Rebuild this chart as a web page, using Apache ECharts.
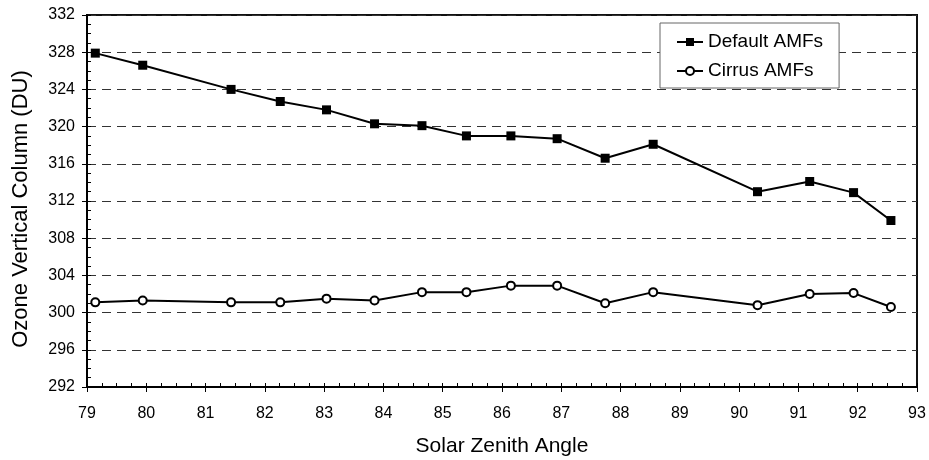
<!DOCTYPE html>
<html>
<head>
<meta charset="utf-8">
<script src="https://cdn.jsdelivr.net/npm/echarts@6/dist/echarts.min.js"></script>
<style>html,body{margin:0;padding:0;background:#fff;}#c{width:929px;height:460px;}</style>
</head>
<body>
<div id="c"></div>
<script>
const sza = [79.14, 79.94, 81.43, 82.26, 83.04, 83.85, 84.65, 85.40, 86.15, 86.93, 87.74, 88.55, 90.31, 91.19, 91.93, 92.56];
const defaultAMF = [327.9, 326.6, 324.0, 322.7, 321.8, 320.3, 320.1, 319.0, 319.0, 318.7, 316.6, 318.1, 313.0, 314.1, 312.9, 309.9];
const cirrusAMF = [301.1, 301.3, 301.1, 301.1, 301.5, 301.3, 302.2, 302.2, 302.9, 302.9, 301.0, 302.2, 300.8, 302.0, 302.1, 300.6];
const seriesNames = ['Default AMFs', 'Cirrus AMFs'];
const xTitle = 'Solar Zenith Angle';
const yTitle = 'Ozone Vertical Column (DU)';

const font = '"Liberation Sans", Arial, sans-serif';
const chart = echarts.init(document.getElementById('c'), null, {renderer: 'canvas'});

function pairs(xs, ys) { return xs.map((x, i) => [x, ys[i]]); }

const xBase = {type: 'value', min: 79, max: 93, interval: 1, position: 'bottom'};
const yBase = {type: 'value', min: 292, max: 332, interval: 4, position: 'left'};

chart.setOption({
  animation: false,
  backgroundColor: '#fff',
  grid: {left: 87, right: 12, top: 15, bottom: 73, show: true, borderColor: '#111', borderWidth: 2, backgroundColor: 'transparent', containLabel: false, outerBoundsMode: 'none'},
  legend: {
    orient: 'vertical', left: 660, top: 23,
    padding: [9, 16, 7, 16], itemGap: 9,
    itemWidth: 26, itemHeight: 10,
    borderColor: '#666', borderWidth: 1, backgroundColor: '#fff',
    textStyle: {fontFamily: font, fontSize: 19, color: '#000', lineHeight: 20},
    data: seriesNames
  },
  xAxis: [
    Object.assign({}, xBase, {
      name: xTitle, nameLocation: 'middle', nameGap: 49,
      nameTextStyle: {fontFamily: font, fontSize: 21, color: '#000'},
      axisLine: {show: true, lineStyle: {color: '#000', width: 2}},
      axisTick: {show: true, inside: false, length: 5, lineStyle: {color: '#000', width: 1}},
      axisLabel: {fontFamily: font, fontSize: 16, color: '#000', margin: 19},
      splitLine: {show: false}
    }),
    Object.assign({}, xBase, {
      axisLine: {show: false},
      axisTick: {show: true, inside: true, length: 4, lineStyle: {color: '#000', width: 1}},
      minorTick: {show: true, splitNumber: 4, length: 4, lineStyle: {color: '#000', width: 1}},
      axisLabel: {show: false},
      splitLine: {show: false}
    })
  ],
  yAxis: [
    Object.assign({}, yBase, {
      name: yTitle, nameLocation: 'middle', nameGap: 55,
      nameTextStyle: {fontFamily: font, fontSize: 22, color: '#000', padding: [0, 16, 0, 0]},
      axisLine: {show: true, lineStyle: {color: '#000', width: 2}},
      axisTick: {show: true, inside: false, length: 5, lineStyle: {color: '#000', width: 1}},
      axisLabel: {fontFamily: font, fontSize: 16, color: '#000', margin: 12},
      splitLine: {show: true, lineStyle: {color: '#333', width: 1, type: [9, 6]}}
    }),
    Object.assign({}, yBase, {
      axisLine: {show: false},
      axisTick: {show: true, inside: true, length: 4, lineStyle: {color: '#000', width: 1}},
      minorTick: {show: true, splitNumber: 4, length: 4, lineStyle: {color: '#000', width: 1}},
      axisLabel: {show: false},
      splitLine: {show: false}
    })
  ],
  series: [
    {
      name: seriesNames[0], type: 'line', xAxisIndex: 0, yAxisIndex: 0,
      data: pairs(sza, defaultAMF),
      symbol: 'rect', symbolSize: 9,
      lineStyle: {color: '#000', width: 2},
      itemStyle: {color: '#000', borderColor: '#000', borderWidth: 0},
      z: 5
    },
    {
      name: seriesNames[1], type: 'line', xAxisIndex: 0, yAxisIndex: 0,
      data: pairs(sza, cirrusAMF),
      symbol: 'emptyCircle', symbolSize: 8, showAllSymbol: true,
      lineStyle: {color: '#000', width: 2},
      itemStyle: {color: '#000', borderColor: '#000', borderWidth: 1.6},
      z: 5
    }
  ]
});
</script>
</body>
</html>
